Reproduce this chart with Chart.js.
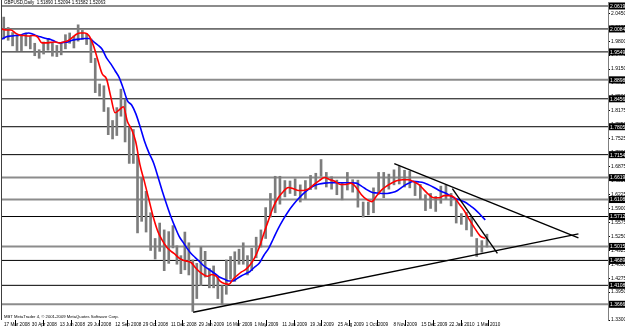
<!DOCTYPE html>
<html>
<head>
<meta charset="utf-8">
<title>GBPUSD,Daily</title>
<script src="https://cdn.jsdelivr.net/npm/chart.js@4.4.1/dist/chart.umd.min.js"></script>
<style>
    html, body { margin: 0; padding: 0; background: #fff; }
    #wrap { width: 625px; height: 329px; }
</style>
</head>
<body>
<div id="wrap"><canvas id="chart" width="625" height="329"></canvas></div>
<script>
/**
 * GBPUSD daily (MT4 screenshot), one range per week
 */
var weekDates = [
    "2008-03-17","2008-03-24","2008-03-31","2008-04-07","2008-04-14","2008-04-21","2008-04-28","2008-05-05","2008-05-12","2008-05-19",
    "2008-05-26","2008-06-02","2008-06-09","2008-06-16","2008-06-23","2008-06-30","2008-07-07","2008-07-14","2008-07-21","2008-07-28",
    "2008-08-04","2008-08-11","2008-08-18","2008-08-25","2008-09-01","2008-09-08","2008-09-15","2008-09-22","2008-09-29","2008-10-06",
    "2008-10-13","2008-10-20","2008-10-27","2008-11-03","2008-11-10","2008-11-17","2008-11-24","2008-12-01","2008-12-08","2008-12-15",
    "2008-12-22","2008-12-29","2009-01-05","2009-01-12","2009-01-19","2009-01-26","2009-02-02","2009-02-09","2009-02-16","2009-02-23",
    "2009-03-02","2009-03-09","2009-03-16","2009-03-23","2009-03-30","2009-04-06","2009-04-13","2009-04-20","2009-04-27","2009-05-04",
    "2009-05-11","2009-05-18","2009-05-25","2009-06-01","2009-06-08","2009-06-15","2009-06-22","2009-06-29","2009-07-06","2009-07-13",
    "2009-07-20","2009-07-27","2009-08-03","2009-08-10","2009-08-17","2009-08-24","2009-08-31","2009-09-07","2009-09-14","2009-09-21",
    "2009-09-28","2009-10-05","2009-10-12","2009-10-19","2009-10-26","2009-11-02","2009-11-09","2009-11-16","2009-11-23","2009-11-30",
    "2009-12-07","2009-12-14","2009-12-21","2009-12-28","2010-01-04","2010-01-11","2010-01-18","2010-01-25","2010-02-01","2010-02-08",
    "2010-02-15","2010-02-22","2010-03-01","2010-03-08","2010-03-15"
];
var weekHighs = [
    2.036,2.012,2.000,1.995,1.992,1.999,1.991,1.975,1.960,1.978,
    1.986,1.975,1.970,1.975,1.995,1.999,1.992,2.018,2.005,1.996,
    1.985,1.940,1.880,1.876,1.825,1.795,1.825,1.868,1.845,1.780,
    1.774,1.714,1.662,1.630,1.580,1.520,1.556,1.540,1.536,1.550,
    1.503,1.480,1.535,1.510,1.470,1.462,1.500,1.490,1.450,1.456,
    1.430,1.410,1.470,1.478,1.489,1.495,1.510,1.480,1.497,1.523,
    1.540,1.592,1.625,1.665,1.665,1.655,1.654,1.659,1.645,1.655,
    1.667,1.672,1.704,1.674,1.664,1.656,1.650,1.674,1.657,1.656,
    1.605,1.605,1.638,1.674,1.674,1.670,1.680,1.688,1.679,1.677,
    1.650,1.646,1.622,1.625,1.618,1.642,1.645,1.625,1.610,1.578,
    1.581,1.569,1.520,1.515,1.530
];
var weekLows = [
    1.985,1.982,1.969,1.958,1.958,1.969,1.962,1.946,1.940,1.950,
    1.959,1.945,1.944,1.948,1.962,1.975,1.964,1.980,1.984,1.972,
    1.930,1.860,1.852,1.816,1.762,1.752,1.760,1.805,1.745,1.695,
    1.695,1.533,1.560,1.535,1.492,1.472,1.490,1.445,1.462,1.498,
    1.460,1.438,1.447,1.435,1.350,1.380,1.410,1.430,1.405,1.405,
    1.380,1.366,1.390,1.425,1.420,1.460,1.460,1.435,1.445,1.475,
    1.500,1.520,1.570,1.580,1.600,1.617,1.625,1.620,1.605,1.612,
    1.634,1.635,1.665,1.640,1.635,1.622,1.610,1.633,1.628,1.593,
    1.570,1.575,1.580,1.623,1.615,1.635,1.645,1.647,1.640,1.638,
    1.620,1.611,1.585,1.590,1.583,1.602,1.611,1.596,1.556,1.553,
    1.540,1.525,1.478,1.488,1.500
];
// red moving average
var maFast = [
    2.008,2.006,2.006,1.999,1.994,1.993,1.992,1.993,1.990,1.976,
    1.976,1.977,1.978,1.976,1.978,1.981,1.988,1.996,1.999,1.999,
    1.992,1.969,1.936,1.904,1.892,1.850,1.813,1.820,1.827,1.792,
    1.774,1.745,1.692,1.653,1.611,1.569,1.536,1.515,1.499,1.490,
    1.483,1.474,1.469,1.467,1.464,1.453,1.443,1.436,1.432,1.436,
    1.432,1.420,1.415,1.413,1.425,1.434,1.442,1.448,1.458,1.474,
    1.499,1.532,1.564,1.594,1.615,1.629,1.639,1.636,1.632,1.632,
    1.636,1.646,1.655,1.662,1.657,1.653,1.646,1.646,1.649,1.639,
    1.622,1.611,1.606,1.620,1.634,1.643,1.650,1.655,1.657,1.657,
    1.653,1.646,1.634,1.622,1.615,1.615,1.620,1.620,1.615,1.599,
    1.583,1.562,1.543,1.526,1.520
];
// blue moving average
var maSlow = [
    1.985,1.990,1.992,1.993,1.994,1.997,1.999,1.996,1.992,1.989,
    1.986,1.984,1.979,1.976,1.977,1.978,1.982,1.984,1.985,1.986,
    1.986,1.979,1.971,1.961,1.941,1.927,1.911,1.895,1.869,1.841,
    1.831,1.811,1.782,1.748,1.720,1.697,1.664,1.629,1.597,1.569,
    1.546,1.525,1.511,1.497,1.485,1.476,1.467,1.457,1.450,1.443,
    1.436,1.429,1.425,1.421,1.421,1.427,1.433,1.438,1.443,1.453,
    1.462,1.481,1.497,1.520,1.543,1.564,1.583,1.599,1.613,1.625,
    1.635,1.643,1.647,1.649,1.650,1.650,1.650,1.650,1.650,1.649,
    1.642,1.634,1.628,1.626,1.625,1.625,1.627,1.632,1.641,1.648,
    1.653,1.652,1.650,1.645,1.639,1.632,1.627,1.621,1.614,1.610,
    1.605,1.597,1.588,1.576,1.563
];

// MT4 prints a date every 32 bars
var timeLabels = ["17 Mar 2008","30 Apr 2008","13 Jun 2008","29 Jul 2008","12 Sep 2008","29 Oct 2008",
    "11 Dec 2008","29 Jan 2009","16 Mar 2009","1 May 2009","11 Jun 2009","19 Jul 2009","25 Aug 2009",
    "1 Oct 2009","8 Nov 2009","15 Dec 2009","22 Jan 2010","1 Mar 2010"];
var barsPerLabel = 32;
var lastBar = 697;

var priceTicks = [1.3300,1.3625,1.3950,1.4275,1.4600,1.4925,1.5250,1.5575,1.5900,1.6225,1.6550,1.6875,
    1.7200,1.7525,1.7850,1.8175,1.8500,1.8825,1.9150,1.9475,1.9800,2.0125,2.0450];
var priceMin = 1.3300, priceMax = 2.0712;

// horizontal lines drawn on the chart
var blackLevels = [2.0084,1.9549,1.8456,1.7805,1.7154,1.5712,1.4689,1.4108];
var grayLevels = [2.0619,1.8898,1.6619,1.6108,1.5015,1.3666];

// trend lines, [bar, price] ends
var supportLine = [[219.9,1.3480],[663.0,1.5308]];
var resistanceLine = [[451.2,1.6945],[663.0,1.5214]];
var shortLine = [[518.0,1.6364],[569.8,1.4852]];

var headerText = "GBPUSD,Daily  1.51890 1.52094 1.51582 1.52063";
var footerText = "MBT MetaTrader 4, \u00a9 2001-2009 MetaQuotes Software Corp.";

(function(){
    var months = {Jan:0,Feb:1,Mar:2,Apr:3,May:4,Jun:5,Jul:6,Aug:7,Sep:8,Oct:9,Nov:10,Dec:11};
    function isoDay(s){var p=s.split("-");return Date.UTC(+p[0],+p[1]-1,+p[2])/86400000;}
    function labelDay(s){var p=s.split(" ");return Date.UTC(+p[2],months[p[1]],+p[0])/86400000;}
    var labelDays = timeLabels.map(labelDay);
    // date -> bar number, between the printed dates
    function barOf(s){
        var d = isoDay(s), i = 0;
        while(i < labelDays.length-2 && d > labelDays[i+1]) i++;
        return (i + (d-labelDays[i])/(labelDays[i+1]-labelDays[i])) * barsPerLabel;
    }
    var font = "'Liberation Sans', Arial, sans-serif";

    var datasets = [];
    blackLevels.forEach(function(v){
        datasets.push({type:"line", data:[{x:0,y:v},{x:lastBar,y:v}], borderColor:"#000", borderWidth:1, pointRadius:0, order:5});
    });
    grayLevels.forEach(function(v){
        datasets.push({type:"line", data:[{x:0,y:v},{x:lastBar,y:v}], borderColor:"#8c8c8c", borderWidth:2, pointRadius:0, order:5});
    });
    datasets.push({
        type:"bar",
        data: weekDates.map(function(d,i){return {x:barOf(d)+2, y:[weekLows[i], weekHighs[i]]};}),
        backgroundColor:"#7c7c7c", borderWidth:0, barThickness:2, order:4
    });
    datasets.push({
        type:"line", data: weekDates.map(function(d,i){return {x:barOf(d), y:maSlow[i]};}),
        borderColor:"#0000ff", borderWidth:1.6, pointRadius:0, cubicInterpolationMode:"monotone", order:3
    });
    datasets.push({
        type:"line", data: weekDates.map(function(d,i){return {x:barOf(d), y:maFast[i]};}),
        borderColor:"#ff0000", borderWidth:1.6, pointRadius:0, cubicInterpolationMode:"monotone", order:2
    });
    [supportLine, resistanceLine, shortLine].forEach(function(l){
        datasets.push({type:"line", data:l.map(function(p){return {x:p[0],y:p[1]};}), borderColor:"#000", borderWidth:1.4, pointRadius:0, order:1});
    });

    var overlay = {
        id: "mt4overlay",
        afterDraw: function(chart){
            var ctx = chart.ctx, a = chart.chartArea, ys = chart.scales.y;
            ctx.save();
            // window frame on the left
            ctx.strokeStyle = "#404040";
            ctx.lineWidth = 1;
            ctx.beginPath();
            ctx.moveTo(1.5, 0);
            ctx.lineTo(1.5, a.bottom);
            ctx.stroke();
            // price boxes of the horizontal lines
            ctx.font = "5px " + font;
            ctx.textBaseline = "middle";
            ctx.textAlign = "left";
            blackLevels.concat(grayLevels).forEach(function(v){
                var y = ys.getPixelForValue(v);
                ctx.fillStyle = "#000";
                ctx.fillRect(a.right + 1, y - 3.5, 17, 7);
                ctx.fillStyle = "#fff";
                ctx.fillText(v.toFixed(4), a.right + 2, y + 0.5);
            });
            ctx.fillStyle = "#000";
            ctx.font = "4.5px " + font;
            ctx.textBaseline = "top";
            ctx.fillText(headerText, a.left + 2, 1);
            ctx.font = "4.2px " + font;
            ctx.textBaseline = "bottom";
            ctx.fillText(footerText, a.left + 2, a.bottom - 1);
            ctx.restore();
        }
    };

    new Chart($("chart"), {
        type: "line",
        data: { datasets: datasets },
        options: {
            responsive: false,
            animation: false,
            devicePixelRatio: 1,
            layout: { padding: { left: 2, top: 2, right: 0, bottom: 0 } },
            plugins: { legend: { display: false }, tooltip: { enabled: false } },
            scales: {
                x: {
                    type: "linear", min: 0, max: lastBar, offset: false,
                    afterBuildTicks: function(s){ s.ticks = timeLabels.map(function(t,i){return {value:i*barsPerLabel};}); },
                    afterFit: function(s){ s.height = 9; s.paddingLeft = 0; s.paddingRight = 0; },
                    grid: { drawOnChartArea: false, drawTicks: true, tickLength: 6, color: "#000" },
                    border: { display: false },
                    ticks: {
                        autoSkip: false, maxRotation: 0, align: "start", labelOffset: 2, padding: -4.5,
                        color: "#000", font: { family: font, size: 4.6 },
                        callback: function(v,i){ return timeLabels[i]; }
                    }
                },
                y: {
                    position: "right", min: priceMin, max: priceMax,
                    afterBuildTicks: function(s){ s.ticks = priceTicks.map(function(v){return {value:v};}); },
                    afterFit: function(s){ s.width = 17; s.paddingTop = 0; s.paddingBottom = 0; },
                    grid: { drawOnChartArea: false, drawTicks: true, tickLength: 2, color: "#000" },
                    border: { display: true, color: "#7f7f7f", width: 1 },
                    ticks: {
                        autoSkip: false, padding: 1, color: "#000", font: { family: font, size: 5 },
                        callback: function(v){ return Number(v).toFixed(4); }
                    }
                }
            }
        },
        plugins: [overlay]
    });
    function $(id){ return document.getElementById(id); }
})();
</script>
</body>
</html>
